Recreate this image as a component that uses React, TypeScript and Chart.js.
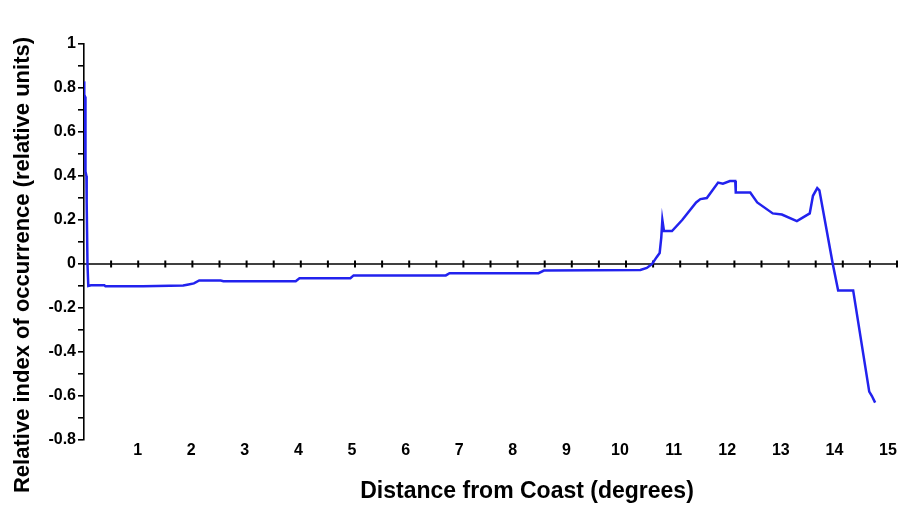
import React, { useEffect, useRef } from "react";
import { Chart, registerables } from "chart.js";

Chart.register(...registerables);

const distance: number[] = [
  0.0, 0.005, 0.02, 0.025, 0.03, 0.045, 0.05, 0.065, 0.08,
  0.13, 0.38, 0.4, 1.1, 1.85, 1.95, 2.05, 2.15, 2.55, 2.6, 3.95, 4.02, 4.97, 5.03,
  6.75, 6.82, 8.48, 8.58, 10.38, 10.5, 10.6, 10.68, 10.74, 10.77, 10.79, 10.82,
  10.97, 11.16, 11.42, 11.5, 11.62, 11.83, 11.92, 12.05, 12.15, 12.16, 12.43,
  12.56, 12.85, 13.02, 13.3, 13.54, 13.6, 13.68, 13.72, 13.97, 14.07, 14.35,
  14.65, 14.7, 14.76,
];

const occurrence: number[] = [
  0.83, 0.77, 0.76, 0.53, 0.42, 0.4, 0.28, 0.0, -0.1,
  -0.097, -0.097, -0.101, -0.101, -0.098, -0.093, -0.088, -0.075, -0.075, -0.078,
  -0.078, -0.065, -0.065, -0.052, -0.052, -0.042, -0.042, -0.03, -0.027, -0.018,
  0.0, 0.03, 0.05, 0.12, 0.2, 0.15, 0.15, 0.2, 0.28, 0.295, 0.3, 0.37, 0.365,
  0.377, 0.377, 0.325, 0.325, 0.28, 0.23, 0.225, 0.195, 0.23, 0.31, 0.345, 0.335,
  0.0, -0.12, -0.12, -0.58, -0.6, -0.63,
];

const xTickValues: number[] = [1, 2, 3, 4, 5, 6, 7, 8, 9, 10, 11, 12, 13, 14, 15];
const yLabelledTicks: number[] = [-0.8, -0.6, -0.4, -0.2, 0, 0.2, 0.4, 0.6, 0.8, 1];

const X_TITLE = "Distance from Coast (degrees)";
const Y_TITLE = "Relative index of occurrence (relative units)";
const ZERO_TICK_COUNT = 30;

const FONT = "'Liberation Sans', Arial, sans-serif";

const decorPlugin = {
  id: "decor",
  beforeDatasetsDraw(chart: any) {
    const { ctx, scales } = chart;
    const x = scales.x;
    const y = scales.y;
    const y0 = y.getPixelForValue(0);
    const x0 = x.getPixelForValue(0);
    const xEnd = chart.width - 1;
    ctx.save();
    ctx.strokeStyle = "#000";
    ctx.lineWidth = 1.6;
    ctx.beginPath();
    ctx.moveTo(x0, y0);
    ctx.lineTo(xEnd, y0);
    ctx.stroke();
    ctx.lineWidth = 2;
    for (let k = 1; k <= ZERO_TICK_COUNT; k++) {
      const px = x0 + (k * (xEnd - x0)) / ZERO_TICK_COUNT;
      ctx.beginPath();
      ctx.moveTo(px, y0 - 3.5);
      ctx.lineTo(px, y0 + 3.5);
      ctx.stroke();
    }
    ctx.restore();
  },
  afterDraw(chart: any) {
    const { ctx } = chart;
    ctx.save();
    ctx.fillStyle = "#000";
    ctx.textAlign = "center";
    ctx.textBaseline = "middle";
    ctx.font = `bold 23px ${FONT}`;
    ctx.fillText(X_TITLE, 527, 492);
    ctx.font = `bold 22px ${FONT}`;
    ctx.translate(23, 265);
    ctx.rotate(-Math.PI / 2);
    ctx.fillText(Y_TITLE, 0, 0);
    ctx.restore();
  },
};

export default function App() {
  const ref = useRef<HTMLCanvasElement>(null);

  useEffect(() => {
    if (!ref.current) return;
    const points = distance.map((d, i) => ({ x: d, y: occurrence[i] }));
    const chart = new Chart(ref.current, {
      type: "line",
      data: {
        datasets: [
          {
            data: points,
            borderColor: "#2222ee",
            borderWidth: 2.5,
            pointRadius: 0,
            tension: 0,
            fill: false,
          },
        ],
      },
      options: {
        animation: false,
        responsive: false,
        maintainAspectRatio: false,
        layout: { padding: { top: 44, right: 10, left: 0, bottom: 0 } },
        plugins: {
          legend: { display: false },
          tooltip: { enabled: false },
        },
        scales: {
          x: {
            type: "linear",
            min: 0,
            max: 15,
            afterFit: (s: any) => {
              s.height = 66;
            },
            afterBuildTicks: (s: any) => {
              s.ticks = xTickValues.map((v) => ({ value: v }));
            },
            grid: { display: false, drawTicks: false },
            border: { display: false },
            ticks: {
              autoSkip: false,
              maxRotation: 0,
              padding: 1,
              color: "#000",
              font: { family: FONT, size: 16, weight: "bold" },
              callback: (v: any) => String(v),
            },
          },
          y: {
            type: "linear",
            min: -0.8,
            max: 1,
            afterFit: (s: any) => {
              s.width = 84;
            },
            grid: {
              display: true,
              drawOnChartArea: false,
              drawTicks: true,
              tickLength: 6,
              color: "#000",
              lineWidth: 1.6,
            },
            border: { display: true, color: "#000", width: 1.6 },
            ticks: {
              stepSize: 0.1,
              autoSkip: false,
              padding: 2,
              color: "#000",
              font: { family: FONT, size: 16, weight: "bold" },
              callback: (v: any) => {
                const r = Math.round(Number(v) * 10) / 10;
                const match = yLabelledTicks.find((t) => Math.abs(t - r) < 1e-6);
                return match === undefined ? "" : String(match);
              },
            },
          },
        },
      },
      plugins: [decorPlugin],
    });
    return () => chart.destroy();
  }, []);

  return (
    <div style={{ position: "absolute", left: 0, top: 0, width: 898, height: 506, background: "#fff" }}>
      <canvas ref={ref} width={898} height={506} />
    </div>
  );
}
